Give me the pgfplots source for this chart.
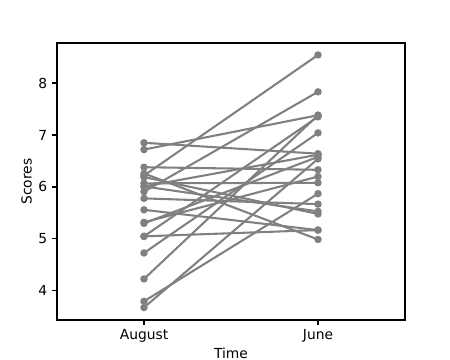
\documentclass[border=0pt]{standalone}
\usepackage{pgfplots}
\pgfplotsset{compat=1.18}
\usepackage{fontspec}
\setmainfont{DejaVu Sans}
\definecolor{lg}{rgb}{0.5,0.5,0.5}
\begin{document}
\fontsize{10pt}{12pt}\selectfont
\begin{tikzpicture}
\path[use as bounding box] (-0.57in,-0.40in) rectangle (3.93in,3.20in);
\begin{axis}[
  at={(0,0)}, anchor=south west,
  scale only axis, width=3.48in, height=2.77in,
  xmin=-0.5, xmax=1.5, ymin=3.44, ymax=8.77,
  xtick={0,1}, xticklabels={August,June},
  ytick={4,5,6,7,8},
  xtick pos=bottom, ytick pos=left,
  tick align=outside, major tick length=3.5pt,
  tick style={black, line width=0.8pt},
  axis line style={line width=0.8pt},
  /pgf/number format/assume math mode=true,
  ticklabel style={font=\fontsize{10pt}{12pt}\selectfont},
  label style={font=\fontsize{10pt}{12pt}\selectfont},
  xlabel={Time}, ylabel={Scores},
  xlabel style={yshift=3pt},
  ylabel style={yshift=-2pt},
  every axis plot post/.append style={color=lg, solid, line width=1.5pt, mark=*, mark size=1.9pt, mark options={solid, fill=lg, draw=lg}},
]
\addplot coordinates {(0,6.85) (1,6.64)};
\addplot coordinates {(0,6.72) (1,7.38)};
\addplot coordinates {(0,6.38) (1,6.33)};
\addplot coordinates {(0,6.26) (1,4.99)};
\addplot coordinates {(0,6.22) (1,8.54)};
\addplot coordinates {(0,6.19) (1,5.48)};
\addplot coordinates {(0,6.07) (1,6.08)};
\addplot coordinates {(0,6.01) (1,5.53)};
\addplot coordinates {(0,5.91) (1,7.83)};
\addplot coordinates {(0,5.78) (1,5.67)};
\addplot coordinates {(0,5.56) (1,5.17)};
\addplot coordinates {(0,5.30) (1,6.58)};
\addplot coordinates {(0,5.32) (1,6.20)};
\addplot coordinates {(0,5.05) (1,7.35)};
\addplot coordinates {(0,5.05) (1,5.17)};
\addplot coordinates {(0,4.73) (1,7.04)};
\addplot coordinates {(0,4.23) (1,7.38)};
\addplot coordinates {(0,3.80) (1,5.87)};
\addplot coordinates {(0,3.68) (1,6.54)};
\addplot coordinates {(0,6.01) (1,6.62)};
\end{axis}
\end{tikzpicture}
\end{document}
